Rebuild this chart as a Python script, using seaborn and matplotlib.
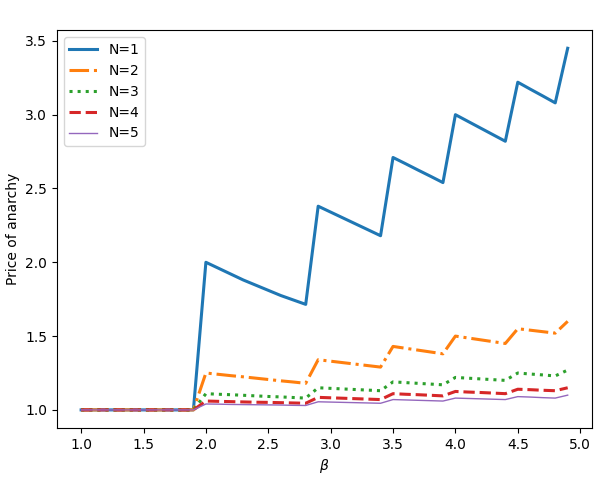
import numpy as np
import matplotlib
matplotlib.use("Agg")
import matplotlib.pyplot as plt
import seaborn as sns

# beta grid (step 0.1)
beta = [1.0, 1.1, 1.2, 1.3, 1.4, 1.5, 1.6, 1.7, 1.8, 1.9,
        2.0, 2.1, 2.2, 2.3, 2.4, 2.5, 2.6, 2.7, 2.8,
        2.9, 3.0, 3.1, 3.2, 3.3, 3.4,
        3.5, 3.6, 3.7, 3.8, 3.9,
        4.0, 4.1, 4.2, 4.3, 4.4,
        4.5, 4.6, 4.7, 4.8,
        4.9]

poa_n1 = [1.0] * 10 + [2.00, 1.96, 1.92, 1.88, 1.845, 1.81, 1.775, 1.745, 1.715,
                       2.38, 2.34, 2.30, 2.26, 2.22, 2.18,
                       2.71, 2.668, 2.625, 2.583, 2.54,
                       3.00, 2.955, 2.91, 2.865, 2.82,
                       3.22, 3.173, 3.127, 3.08,
                       3.45]
poa_n2 = [1.0] * 10 + [1.25, 1.241, 1.232, 1.224, 1.215, 1.206, 1.197, 1.189, 1.18,
                       1.34, 1.33, 1.32, 1.31, 1.30, 1.29,
                       1.43, 1.4175, 1.405, 1.3925, 1.38,
                       1.50, 1.4875, 1.475, 1.4625, 1.45,
                       1.55, 1.54, 1.53, 1.52,
                       1.60]
poa_n3 = [1.0] * 10 + [1.11, 1.106, 1.103, 1.099, 1.095, 1.091, 1.088, 1.084, 1.08,
                       1.15, 1.146, 1.142, 1.138, 1.134, 1.13,
                       1.19, 1.185, 1.18, 1.175, 1.17,
                       1.22, 1.215, 1.21, 1.205, 1.20,
                       1.25, 1.243, 1.237, 1.23,
                       1.27]
poa_n4 = [1.0] * 10 + [1.06, 1.058, 1.056, 1.054, 1.052, 1.051, 1.049, 1.047, 1.045,
                       1.085, 1.082, 1.079, 1.076, 1.073, 1.07,
                       1.11, 1.106, 1.103, 1.099, 1.095,
                       1.125, 1.121, 1.118, 1.114, 1.11,
                       1.14, 1.137, 1.133, 1.13,
                       1.15]
poa_n5 = [1.0] * 10 + [1.04, 1.039, 1.037, 1.036, 1.035, 1.034, 1.033, 1.031, 1.03,
                       1.055, 1.053, 1.051, 1.049, 1.047, 1.045,
                       1.07, 1.0675, 1.065, 1.0625, 1.06,
                       1.08, 1.0775, 1.075, 1.0725, 1.07,
                       1.09, 1.087, 1.083, 1.08,
                       1.10]

labels = ["N=1", "N=2", "N=3", "N=4", "N=5"]


def main():
    fig = plt.figure(figsize=(5.98, 4.79), dpi=100)
    ax = fig.add_axes([0.095, 0.1065, 0.895, 0.8305])

    series = [poa_n1, poa_n2, poa_n3, poa_n4, poa_n5]
    colors = sns.color_palette("tab10", 5)
    styles = ["-", "-.", ":", "--", "-"]
    widths = [2.2, 2.2, 2.2, 2.2, 1.0]

    for vals, lab, c, ls, lw in zip(series, labels, colors, styles, widths):
        sns.lineplot(x=beta, y=vals, ax=ax, label=lab, color=c,
                     linestyle=ls, linewidth=lw)

    ax.set_xlabel(r"$\beta$")
    ax.set_ylabel("Price of anarchy")
    ax.legend(loc="upper left")

    fig.savefig("out.png", dpi=100)


if __name__ == '__main__':
    main()
